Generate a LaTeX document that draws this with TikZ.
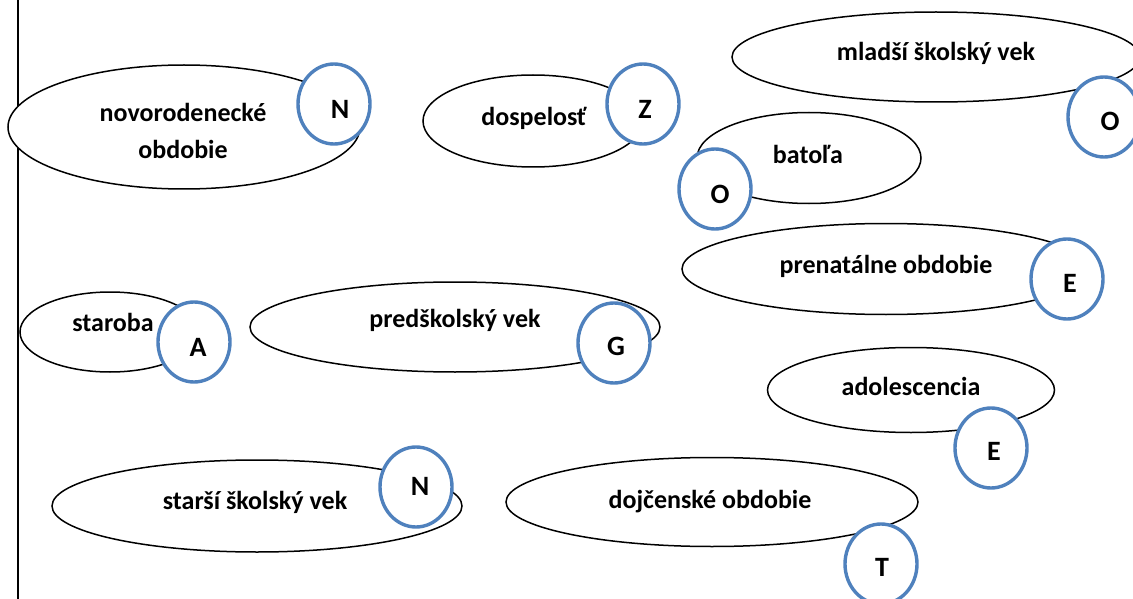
\documentclass[tikz,border=0pt]{standalone}
\usepackage{fontspec}
\setmainfont{Carlito}
\usetikzlibrary{shapes.geometric}
\definecolor{ringblue}{HTML}{4F81BD}
\tikzset{
  stage/.style={ellipse, draw=black, line width=1.5pt, fill=white, inner sep=0pt},
  ring/.style={ellipse, draw=ringblue, line width=3.4pt, fill=white, inner sep=0pt,
               minimum width=72pt, minimum height=80pt},
  txt/.style={font=\fontsize{26}{37}\selectfont\bfseries, inner sep=0pt, align=center},
  letterT/.style={font=\fontsize{28}{32}\selectfont\bfseries, inner sep=0pt}
}
\begin{document}
\begin{tikzpicture}[x=1pt,y=-1pt]
\useasboundingbox (0,0) rectangle (1133,599);
\clip (0,0) rectangle (1133,599);

% left rule
\coordinate (ruletop) at (18,0);
\coordinate (rulebot) at (18,599);
\draw[line width=1.6pt] (ruletop) -- (rulebot);

% novorodenecke obdobie
\node[stage, minimum width=352pt, minimum height=124pt] (novo) at (184,127) {};
\node[txt] (novoT) at (183,131) {novorodenecké\\obdobie};
\node[ring] (rN1) at (334,104) {};
\node[letterT] at ([shift={(6,5)}]rN1.center) {N};

% dospelost
\node[stage, minimum width=220pt, minimum height=92pt] (dosp) at (533,121) {};
\node[txt] (dospT) at (534,118) {dospelosť};
\node[ring] (rZ) at (643,104) {};
\node[letterT] at ([shift={(2,5)}]rZ.center) {Z};

% mladsi skolsky vek
\node[stage, minimum width=408pt, minimum height=90pt] (mlad) at (936,57) {};
\node[txt] (mladT) at (936,53) {mladší školský vek};
\node[ring] (rO1) at (1104,117) {};
\node[letterT] at ([shift={(6,4)}]rO1.center) {O};

% batola
\node[stage, minimum width=224pt, minimum height=91pt] (bato) at (809,158) {};
\node[txt] (batoT) at (808,154) {batoľa};
\node[ring] (rO2) at (715,189) {};
\node[letterT] at ([shift={(5,5)}]rO2.center) {O};

% prenatalne obdobie
\node[stage, minimum width=408pt, minimum height=91pt] (pren) at (886,269) {};
\node[txt] (prenT) at (886,266) {prenatálne obdobie};
\node[ring] (rE1) at (1067,279) {};
\node[letterT] at ([shift={(3,4)}]rE1.center) {E};

% staroba
\node[stage, minimum width=180pt, minimum height=80pt] (star) at (110,332) {};
\node[txt] (starT) at (113,322) {staroba};
\node[ring] (rA) at (194,342) {};
\node[letterT] at ([shift={(4,5)}]rA.center) {A};

% predskolsky vek
\node[stage, minimum width=410pt, minimum height=90pt] (pred) at (455,327) {};
\node[txt] (predT) at (455,320) {predškolský vek};
\node[ring] (rG) at (614,343) {};
\node[letterT] at ([shift={(2,3)}]rG.center) {G};

% adolescencia
\node[stage, minimum width=287pt, minimum height=85pt] (adol) at (911,390) {};
\node[txt] (adolT) at (911,386) {adolescencia};
\node[ring] (rE2) at (991,448) {};
\node[letterT] at ([shift={(3,3)}]rE2.center) {E};

% dojcenske obdobie
\node[stage, minimum width=412pt, minimum height=89pt] (dojc) at (712,502) {};
\node[txt] (dojcT) at (710,502) {dojčenské obdobie};
\node[ring] (rT) at (881,564) {};
\node[letterT] at ([shift={(1,3)}]rT.center) {T};

% starsi skolsky vek
\node[stage, minimum width=410pt, minimum height=92pt] (stsk) at (257,506) {};
\node[txt] (stskT) at (255,502) {starší školský vek};
\node[ring] (rN2) at (416,487) {};
\node[letterT] at ([shift={(4,-1)}]rN2.center) {N};
\end{tikzpicture}
\end{document}
